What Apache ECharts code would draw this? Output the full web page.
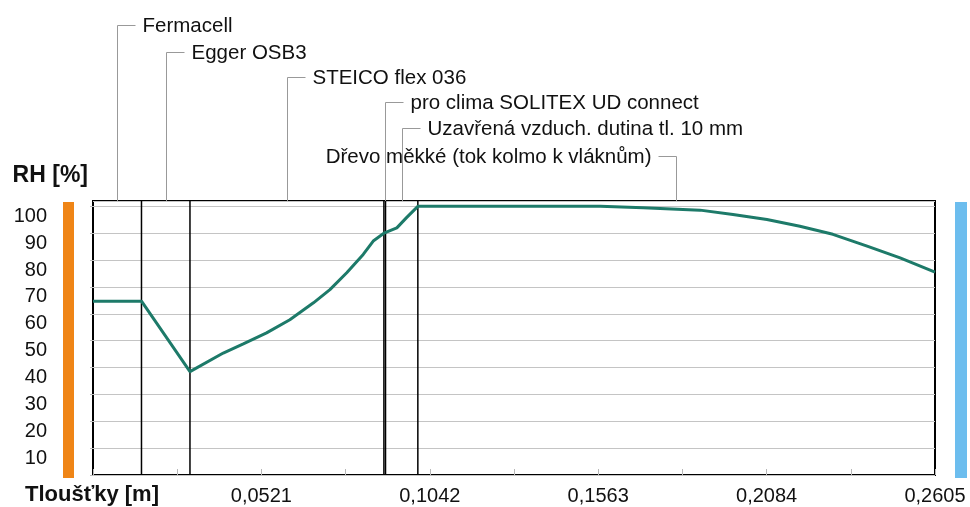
<!DOCTYPE html>
<html><head><meta charset="utf-8">
<script src="https://cdn.jsdelivr.net/npm/echarts@6/dist/echarts.min.js"></script>
<style>html,body{margin:0;padding:0;background:#fff}#c{width:970px;height:507px}</style>
</head><body><div id="c"></div>
<script>
// ---- data ----
const layerNames = ['Fermacell', 'Egger OSB3', 'STEICO flex 036', 'pro clima SOLITEX UD connect', 'Uzavřená vzduch. dutina tl. 10 mm', 'Dřevo měkké (tok kolmo k vláknům)'];
const layerBounds = [0, 0.015, 0.030, 0.090, 0.0905, 0.1005, 0.2605];
const rhX = [0, 0.015, 0.030, 0.0403, 0.0465, 0.0537, 0.0609, 0.0682, 0.0733, 0.0785, 0.0836, 0.0867, 0.090, 0.094, 0.097, 0.1005, 0.130, 0.1569, 0.1702, 0.1878, 0.198, 0.2085, 0.2187, 0.2289, 0.2395, 0.2497, 0.2605];
const rhY = [64.7, 64.7, 38.5, 45.4, 48.8, 52.9, 57.8, 64.1, 69.0, 75.3, 82.1, 87.1, 90.0, 92.0, 95.8, 100.0, 100.0, 100.0, 99.5, 98.6, 97.0, 95.1, 92.6, 89.6, 85.2, 80.8, 75.5];
const xTickLabels = [0.0521, 0.1042, 0.1563, 0.2084, 0.2605];
const yTickLabels = [10, 20, 30, 40, 50, 60, 70, 80, 90, 100];
const xTitle = 'Tloušťky [m]';
const yTitle = 'RH [%]';

// ---- layout ----
const G = {left: 93, right: 35, top: 201, bottom: 32};
const W = 970, H = 507;
const Y_MAX = 102;
const labelRows = [25, 52, 77, 102, 128, 156];
const labelSide = [1, 1, 1, 1, 1, -1];
const FONT = 'Liberation Sans, Arial, sans-serif';

const chart = echarts.init(document.getElementById('c'), null, {renderer: 'canvas'});
const fmtX = v => {
  const hit = xTickLabels.find(t => Math.abs(t - v) < 1e-6);
  return hit ? hit.toFixed(4).replace('.', ',') : '';
};
const fmtY = v => yTickLabels.indexOf(Math.round(v)) >= 0 && Math.abs(v - Math.round(v)) < 1e-6 ? String(Math.round(v)) : '';

const boundarySeries = layerBounds.slice(1, -1).map(v => ({
  type: 'line', z: 3, showSymbol: false, symbol: 'none', silent: true,
  lineStyle: {color: '#000', width: 1.5},
  data: [[v, 0], [v, Y_MAX]]
}));

chart.setOption({
  animation: false,
  backgroundColor: '#fff',
  grid: {left: G.left, right: G.right, top: G.top, bottom: G.bottom, show: true, borderColor: '#000', borderWidth: 2, backgroundColor: 'transparent', containLabel: false},
  xAxis: {
    type: 'value', min: 0, max: 0.2605, interval: 0.0521,
    axisLine: {show: false},
    splitLine: {show: false},
    axisTick: {show: true, inside: true, length: 6, lineStyle: {color: '#b8b8b8', width: 1}},
    minorTick: {show: true, splitNumber: 2, length: 6, lineStyle: {color: '#b8b8b8', width: 1}},
    axisLabel: {formatter: fmtX, fontFamily: FONT, fontSize: 20, color: '#111', margin: 11, showMaxLabel: true, showMinLabel: false}
  },
  yAxis: {
    type: 'value', min: 0, max: Y_MAX, interval: 10,
    axisLine: {show: false},
    axisTick: {show: true, length: 3, lineStyle: {color: '#bbb'}},
    splitLine: {show: true, lineStyle: {color: '#c4c4c4', width: 1}},
    axisLabel: {formatter: fmtY, fontFamily: FONT, fontSize: 20, color: '#111', margin: 46, verticalAlign: 'top', lineHeight: 20, showMaxLabel: false}
  },
  series: boundarySeries.concat([
    {
      type: 'line', z: 5, showSymbol: false, symbol: 'none',
      lineStyle: {color: '#1d7a69', width: 3},
      data: rhX.map((x, i) => [x, rhY[i]])
    }
  ])
});

// decorations and layer labels placed through the axis scales
const pTop = G.top, pBottom = H - G.bottom;
const g = [];
g.push({type: 'rect', shape: {x: 63, y: pTop + 1, width: 11, height: pBottom - pTop + 2}, style: {fill: '#ef8516'}, z: 10});
g.push({type: 'rect', shape: {x: 955, y: pTop + 1, width: 12, height: pBottom - pTop + 2}, style: {fill: '#6cbdee'}, z: 10});
g.push({type: 'text', x: 88, y: 176, style: {text: yTitle, font: 'bold 23px ' + FONT, fill: '#111', textAlign: 'right', textVerticalAlign: 'middle'}, z: 10});
g.push({type: 'text', x: 25, y: 495, style: {text: xTitle, font: 'bold 22px ' + FONT, fill: '#111', textAlign: 'left', textVerticalAlign: 'middle'}, z: 10});
layerNames.forEach((name, i) => {
  const mid = (layerBounds[i] + layerBounds[i + 1]) / 2;
  const px = Math.round(chart.convertToPixel({xAxisIndex: 0}, mid)) + 0.5;
  const ry = labelRows[i] + 0.5;
  const s = labelSide[i];
  g.push({type: 'polyline', shape: {points: [[px, pTop], [px, ry], [px + s * 18, ry]]}, style: {stroke: '#999', lineWidth: 1, fill: null}, z: 10});
  g.push({type: 'text', x: px + s * 25, y: ry + 1, style: {text: name, font: '20.5px ' + FONT, fill: '#111', textAlign: s > 0 ? 'left' : 'right', textVerticalAlign: 'middle'}, z: 10});
});
chart.setOption({graphic: g});
</script>
</body></html>
